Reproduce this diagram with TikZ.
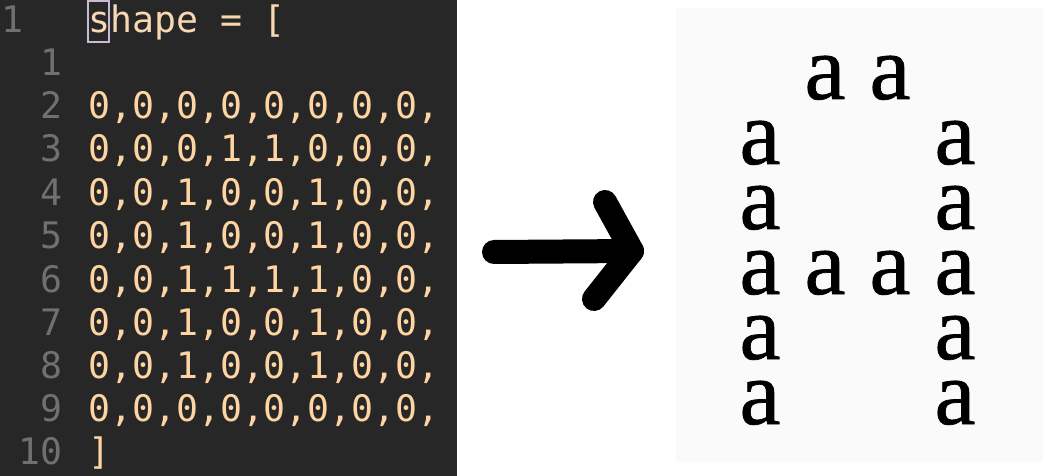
\documentclass[tikz,border=0pt]{standalone}
\usepackage{fontspec}
\newfontfamily\codefont{DejaVu Sans Mono}
\newfontfamily\letterfont[FakeBold=0.8]{Liberation Serif}
\definecolor{editorbg}{HTML}{272727}
\definecolor{codetext}{HTML}{FFD4A3}
\definecolor{headtext}{HTML}{F8D8B2}
\definecolor{gutter}{HTML}{707070}
\definecolor{cursor}{HTML}{C8BCD2}
\definecolor{panelbg}{HTML}{FAFAFA}
\tikzset{
  codeline/.style={anchor=base west, inner sep=0pt, text=codetext, font=\codefont\fontsize{36.5}{40}\selectfont},
  headline/.style={codeline, text=headtext},
  lineno/.style={anchor=base east, inner sep=0pt, text=gutter, font=\codefont\fontsize{36.5}{40}\selectfont},
  glyph/.style={anchor=base, inner sep=0pt, text=black, font=\letterfont\fontsize{92}{100}\selectfont},
  bigarrow/.style={line width=24pt, line cap=round, line join=round, draw=black}
}
\begin{document}
\begin{tikzpicture}[x=1pt,y=-1pt]
\useasboundingbox (0,0) rectangle (1045,476);
\fill[white] (0,0) rectangle (1045,476);
% editor panel
\fill[editorbg] (0,0) rectangle (457,476);
\node[lineno, anchor=base west] (n0) at (1,33) {1};
\draw[cursor, line width=2pt] (87.5,1) rectangle (109,42);
\node[headline] (h) at (88,33) {shape = [};
\node[lineno] (n1) at (63,76) {1};
\node[lineno] (n2) at (63,119) {2};
\node[codeline] (c2) at (88,119) {0,0,0,0,0,0,0,0,};
\node[lineno] (n3) at (63,162) {3};
\node[codeline] (c3) at (88,162) {0,0,0,1,1,0,0,0,};
\node[lineno] (n4) at (63,205) {4};
\node[codeline] (c4) at (88,205) {0,0,1,0,0,1,0,0,};
\node[lineno] (n5) at (63,248) {5};
\node[codeline] (c5) at (88,248) {0,0,1,0,0,1,0,0,};
\node[lineno] (n6) at (63,292) {6};
\node[codeline] (c6) at (88,292) {0,0,1,1,1,1,0,0,};
\node[lineno] (n7) at (63,335) {7};
\node[codeline] (c7) at (88,335) {0,0,1,0,0,1,0,0,};
\node[lineno] (n8) at (63,378) {8};
\node[codeline] (c8) at (88,378) {0,0,1,0,0,1,0,0,};
\node[lineno] (n9) at (63,421) {9};
\node[codeline] (c9) at (88,421) {0,0,0,0,0,0,0,0,};
\node[lineno] (n10) at (63,464) {10};
\node[codeline] (c10) at (88,464) {]};
% arrow
\coordinate (tail) at (494,252);
\coordinate (tip) at (632,251);
\coordinate (armup) at (605,202);
\coordinate (armdown) at (594,299);
\draw[bigarrow] (tail) -- (tip);
\draw[bigarrow] (armup) -- (tip) -- (armdown);
% rendered panel
\fill[panelbg] (676,8) rectangle (1043,462);
\node[glyph] (a1) at (825,99) {a};
\node[glyph] (a2) at (890,99) {a};
\node[glyph] (a3) at (760,164) {a};
\node[glyph] (a4) at (955,164) {a};
\node[glyph] (a5) at (760,229) {a};
\node[glyph] (a6) at (955,229) {a};
\node[glyph] (a7) at (760,294) {a};
\node[glyph] (a8) at (825,294) {a};
\node[glyph] (a9) at (890,294) {a};
\node[glyph] (a10) at (955,294) {a};
\node[glyph] (a11) at (760,359) {a};
\node[glyph] (a12) at (955,359) {a};
\node[glyph] (a13) at (760,424) {a};
\node[glyph] (a14) at (955,424) {a};
\end{tikzpicture}
\end{document}
